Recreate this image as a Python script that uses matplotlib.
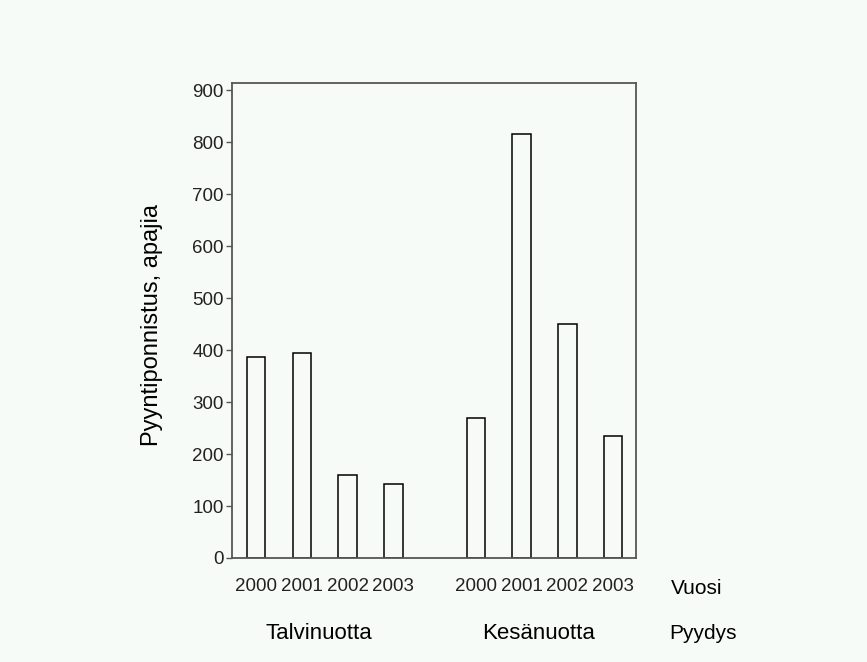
import numpy as np
import matplotlib.pyplot as plt

plt.rcParams['font.family'] = ['Liberation Sans', 'DejaVu Sans']

years = ['2000', '2001', '2002', '2003']
groups = ['Talvinuotta', 'Kesänuotta']
talvi = [386, 395, 160, 142]
kesa = [270, 815, 450, 235]
values = [talvi, kesa]

bg = '#f7fbf8'
fig = plt.figure(figsize=(8.67, 6.62), dpi=100, facecolor=bg)
ax = fig.add_axes([0.2676, 0.1571, 0.466, 0.7171], facecolor=bg)

gap = 4.8
for g, vals in enumerate(values):
    x = np.arange(len(years)) + g * gap
    ax.bar(x, vals, width=0.405, facecolor=bg, edgecolor='black', linewidth=1.1)
    for xi, yr in zip(x, years):
        ax.text(xi, -0.06, yr, transform=ax.get_xaxis_transform(),
                ha='center', va='center', fontsize=13.5, color='#222222')
    ax.text(x.mean() - 0.13, -0.16, groups[g], transform=ax.get_xaxis_transform(),
            ha='center', va='center', fontsize=16, color='black')

ax.text(1.087, -0.065, 'Vuosi', transform=ax.transAxes, ha='left', va='center',
        fontsize=15, color='black')
ax.text(1.082, -0.16, 'Pyydys', transform=ax.transAxes, ha='left', va='center',
        fontsize=15, color='black')

ax.set_xlim(-0.525, 8.3)
ax.set_ylim(0, 913)
ax.set_yticks(range(0, 1000, 100))
ax.set_xticks([])
ax.tick_params(axis='y', direction='out', length=4, width=1, color='#555555',
               labelsize=13.5, labelcolor='#222222', pad=2)
for s in ax.spines.values():
    s.set_color('#555555')
    s.set_linewidth(1.3)

ax.set_ylabel('Pyyntiponnistus, apajia', fontsize=17)
ax.yaxis.set_label_coords(-0.172, 0.49)

fig.savefig('out.png', dpi=100, facecolor=bg)
